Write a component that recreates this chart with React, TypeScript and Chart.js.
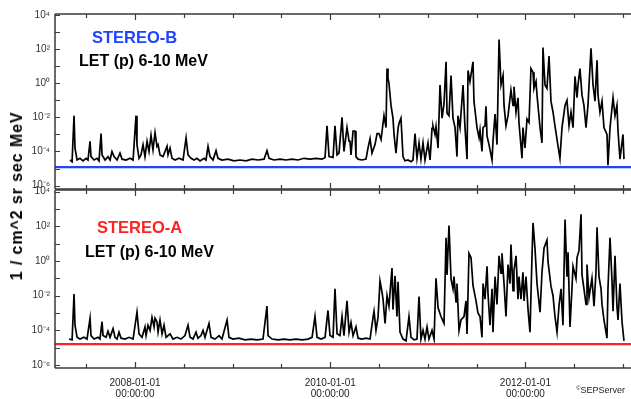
import React, { useEffect, useRef } from 'react';
import { Chart, registerables } from 'chart.js';

Chart.register(...registerables);

// ---------- data (time in decimal years, flux as log10 of 1/(cm^2 sr sec MeV)) ----------
const stereoBTimes = [
  2007.334, 2007.355, 2007.375, 2007.385, 2007.406, 2007.436, 2007.467, 2007.498, 2007.518, 2007.539,
  2007.549, 2007.580, 2007.611, 2007.631, 2007.652, 2007.662, 2007.693, 2007.723, 2007.744, 2007.764,
  2007.785, 2007.816, 2007.846, 2007.867, 2007.908, 2007.949, 2007.980, 2008.010, 2008.020, 2008.041,
  2008.061, 2008.082, 2008.102, 2008.123, 2008.143, 2008.164, 2008.184, 2008.205, 2008.225, 2008.236,
  2008.256, 2008.287, 2008.328, 2008.338, 2008.359, 2008.379, 2008.410, 2008.451, 2008.492, 2008.523,
  2008.543, 2008.574, 2008.605, 2008.635, 2008.666, 2008.707, 2008.727, 2008.748, 2008.768, 2008.799,
  2008.830, 2008.850, 2008.891, 2008.953, 2009.014, 2009.076, 2009.137, 2009.199, 2009.260, 2009.322,
  2009.352, 2009.373, 2009.424, 2009.486, 2009.547, 2009.609, 2009.670, 2009.732, 2009.793, 2009.855,
  2009.916, 2009.947, 2009.967, 2009.988, 2010.029, 2010.049, 2010.070, 2010.090, 2010.121, 2010.141,
  2010.172, 2010.193, 2010.203, 2010.213, 2010.234, 2010.254, 2010.264, 2010.285, 2010.326, 2010.367,
  2010.387, 2010.408, 2010.428, 2010.459, 2010.480, 2010.500, 2010.521, 2010.551, 2010.572, 2010.582,
  2010.592, 2010.602, 2010.623, 2010.643, 2010.654, 2010.674, 2010.695, 2010.705, 2010.725, 2010.746,
  2010.766, 2010.797, 2010.828, 2010.848, 2010.869, 2010.889, 2010.910, 2010.930, 2010.951, 2010.971,
  2011.002, 2011.023, 2011.043, 2011.053, 2011.074, 2011.084, 2011.105, 2011.125, 2011.146, 2011.166,
  2011.187, 2011.197, 2011.217, 2011.238, 2011.258, 2011.279, 2011.299, 2011.309, 2011.330, 2011.361,
  2011.381, 2011.402, 2011.412, 2011.432, 2011.463, 2011.473, 2011.504, 2011.525, 2011.535, 2011.555,
  2011.566, 2011.586, 2011.596, 2011.607, 2011.627, 2011.658, 2011.668, 2011.689, 2011.709, 2011.730,
  2011.750, 2011.771, 2011.781, 2011.801, 2011.822, 2011.852, 2011.873, 2011.883, 2011.904, 2011.924,
  2011.934, 2011.965, 2011.975, 2011.996, 2012.016, 2012.037, 2012.057, 2012.078, 2012.088, 2012.109,
  2012.119, 2012.150, 2012.170, 2012.180, 2012.201, 2012.221, 2012.242, 2012.262, 2012.283, 2012.303,
  2012.324, 2012.354, 2012.375, 2012.406, 2012.426, 2012.447, 2012.467, 2012.488, 2012.508, 2012.529,
  2012.539, 2012.559, 2012.580, 2012.600, 2012.621, 2012.641, 2012.672, 2012.693, 2012.713, 2012.734,
  2012.744, 2012.764, 2012.785, 2012.805, 2012.836, 2012.846, 2012.867, 2012.898, 2012.918, 2012.938,
  2012.949, 2012.969, 2013.000, 2013.010,
];
const stereoBLogFlux = [
  -4.5, -4.6, -1.9, -3.8, -4.5, -4.4, -4.55, -4.4, -4.5, -3.4,
  -4.3, -4.5, -4.4, -4.55, -2.95, -4.2, -4.5, -4.3, -4.5, -4.0,
  -4.3, -4.5, -4.1, -4.45, -4.5, -4.4, -4.5, -1.9, -3.6, -4.4,
  -4.2, -3.6, -4.3, -3.4, -4.0, -3.05, -3.9, -2.9, -3.7, -3.6,
  -4.2, -4.3, -3.7, -4.2, -3.8, -4.4, -4.5, -4.4, -4.5, -3.2,
  -4.2, -4.4, -4.5, -4.4, -4.55, -4.4, -4.5, -3.7, -4.3, -4.5,
  -3.95, -4.4, -4.5, -4.45, -4.55, -4.5, -4.55, -4.45, -4.5, -4.45,
  -3.95, -4.4, -4.5, -4.45, -4.5, -4.45, -4.5, -4.4, -4.45, -4.4,
  -4.45, -4.35, -2.5, -4.3, -4.35, -2.5, -4.2, -4.1, -2.0, -4.0,
  -2.6, -3.4, -3.4, -4.2, -2.8, -2.8, -4.3, -4.45, -4.5, -4.45,
  -3.8, -3.25, -4.1, -3.6, -2.95, -2.95, -3.3, -1.9, -2.6, 0.86,
  0.3, 0.0, -1.3, -2.05, -3.0, -4.1, -2.65, -2.35, -2.05, -4.3,
  -4.55, -4.5, -4.6, -4.5, -2.95, -4.4, -3.5, -4.45, -3.5, -4.5,
  -3.5, -4.5, -2.65, -2.5, -3.0, -2.55, -3.8, -0.1, -2.05, -1.2,
  1.26, -1.75, -1.9, 0.45, -2.05, -2.6, -4.3, -1.9, -2.6, -0.1,
  -2.6, -4.45, 0.75, 0.1, 1.26, -1.05, -2.6, -3.2, -2.75, -4.0,
  -2.6, -2.5, -1.35, -3.1, -3.6, -4.5, -3.4, -1.8, -3.6, 2.57,
  -0.1, 0.45, -1.3, -2.5, -1.9, -0.4, -1.3, -0.2, -1.7, -0.85,
  -2.3, -4.4, -2.6, -3.8, -2.1, -2.3, 0.86, 0.65, -0.3, 0.1,
  -0.7, -2.6, -3.5, 2.1, -0.1, -0.3, 1.6, -1.05, -1.7, -2.5,
  -3.3, -4.4, -2.6, -1.3, -1.0, -2.5, -1.7, -2.6, 0.4, -0.85,
  -0.1, 0.86, -0.7, -1.3, -2.6, -1.3, 2.05, -0.1, -1.05, 1.35,
  -0.7, -1.7, -1.05, -2.6, -3.0, -4.8, -2.6, -0.85, -1.9, -1.3,
  -2.8, -4.45, -3.0, -4.45,
];

const stereoATimes = [
  2007.324, 2007.355, 2007.375, 2007.385, 2007.406, 2007.436, 2007.477, 2007.508, 2007.539, 2007.549,
  2007.580, 2007.621, 2007.641, 2007.662, 2007.672, 2007.703, 2007.723, 2007.744, 2007.775, 2007.795,
  2007.816, 2007.836, 2007.857, 2007.898, 2007.939, 2007.980, 2008.020, 2008.041, 2008.072, 2008.102,
  2008.113, 2008.133, 2008.154, 2008.174, 2008.195, 2008.205, 2008.225, 2008.236, 2008.256, 2008.277,
  2008.297, 2008.318, 2008.359, 2008.389, 2008.430, 2008.471, 2008.512, 2008.543, 2008.564, 2008.594,
  2008.625, 2008.645, 2008.676, 2008.697, 2008.717, 2008.758, 2008.779, 2008.820, 2008.861, 2008.891,
  2008.943, 2008.963, 2009.004, 2009.066, 2009.127, 2009.189, 2009.250, 2009.311, 2009.352, 2009.363,
  2009.404, 2009.465, 2009.527, 2009.588, 2009.650, 2009.711, 2009.773, 2009.814, 2009.844, 2009.865,
  2009.906, 2009.947, 2009.977, 2009.998, 2010.029, 2010.049, 2010.070, 2010.100, 2010.121, 2010.141,
  2010.172, 2010.193, 2010.213, 2010.234, 2010.264, 2010.285, 2010.326, 2010.367, 2010.408, 2010.439,
  2010.449, 2010.469, 2010.490, 2010.510, 2010.531, 2010.541, 2010.562, 2010.582, 2010.602, 2010.633,
  2010.643, 2010.664, 2010.684, 2010.695, 2010.715, 2010.746, 2010.777, 2010.807, 2010.828, 2010.859,
  2010.889, 2010.910, 2010.930, 2010.951, 2010.971, 2010.992, 2011.012, 2011.043, 2011.064, 2011.084,
  2011.105, 2011.135, 2011.166, 2011.187, 2011.197, 2011.217, 2011.238, 2011.258, 2011.268, 2011.289,
  2011.299, 2011.320, 2011.340, 2011.371, 2011.391, 2011.402, 2011.422, 2011.443, 2011.463, 2011.494,
  2011.514, 2011.535, 2011.555, 2011.566, 2011.586, 2011.607, 2011.617, 2011.637, 2011.658, 2011.668,
  2011.689, 2011.709, 2011.730, 2011.750, 2011.760, 2011.781, 2011.801, 2011.822, 2011.842, 2011.852,
  2011.873, 2011.883, 2011.904, 2011.924, 2011.934, 2011.955, 2011.975, 2011.986, 2012.006, 2012.027,
  2012.047, 2012.068, 2012.078, 2012.098, 2012.119, 2012.150, 2012.170, 2012.191, 2012.221, 2012.232,
  2012.262, 2012.283, 2012.303, 2012.324, 2012.344, 2012.365, 2012.385, 2012.406, 2012.426, 2012.437,
  2012.457, 2012.477, 2012.488, 2012.518, 2012.529, 2012.549, 2012.570, 2012.580, 2012.600, 2012.621,
  2012.631, 2012.652, 2012.682, 2012.703, 2012.723, 2012.734, 2012.754, 2012.775, 2012.785, 2012.805,
  2012.836, 2012.846, 2012.867, 2012.887, 2012.898, 2012.918, 2012.938, 2012.949, 2012.969, 2012.990,
  2013.010,
];
const stereoALogFlux = [
  -4.5, -4.55, -1.9, -3.7, -4.4, -4.5, -4.4, -4.5, -3.3, -4.3,
  -4.5, -4.4, -4.5, -3.5, -4.3, -4.4, -4.05, -4.4, -3.9, -4.4,
  -4.5, -4.1, -4.45, -4.5, -4.4, -4.5, -2.95, -4.2, -4.4, -3.8,
  -4.3, -3.7, -4.0, -3.25, -3.8, -3.3, -3.5, -4.1, -3.4, -4.2,
  -3.7, -4.4, -4.2, -4.5, -4.4, -4.5, -4.3, -3.7, -4.4, -4.5,
  -4.1, -4.45, -4.3, -4.0, -4.4, -3.6, -4.4, -4.5, -4.3, -4.5,
  -3.4, -4.4, -4.5, -4.45, -4.55, -4.5, -4.55, -4.5, -2.6, -4.3,
  -4.5, -4.55, -4.5, -4.55, -4.5, -4.55, -4.5, -4.4, -3.2, -4.4,
  -4.5, -4.4, -2.85, -4.3, -4.4, -1.6, -4.2, -4.3, -3.2, -4.3,
  -2.3, -4.1, -3.55, -4.3, -3.8, -4.45, -4.5, -4.45, -4.5, -3.25,
  -2.9, -4.0, -3.25, -1.15, -1.8, -2.2, -3.6, -2.0, -2.6, -0.4,
  -2.8, -0.85, -3.2, -1.2, -4.1, -4.5, -4.6, -3.2, -4.4, -4.55,
  -4.5, -2.05, -4.5, -4.0, -4.5, -3.8, -4.5, -4.0, -4.5, -1.0,
  -2.7, -3.2, -3.6, 1.35, -0.8, 2.05, -1.05, -1.6, -0.9, -2.35,
  -1.3, -4.0, -3.4, -3.2, -2.3, -4.2, 0.45, 0.2, -1.4, -2.3,
  -3.0, -3.2, -4.4, -1.3, -2.2, -0.3, -1.9, -3.7, -1.6, -4.1,
  -0.9, -2.5, 0.3, -0.7, 0.45, -1.3, -3.2, -0.2, -1.3, 0.95,
  -1.7, -0.55, 0.3, -2.2, -0.9, -2.2, -0.65, -2.3, -0.9, -2.8,
  -4.1, 0.35, 2.2, 0.75, -1.3, -2.95, -0.65, 0.75, 1.2, -0.05,
  -1.45, -2.0, -3.2, -4.1, -2.6, -1.6, -3.7, 2.4, -0.9, 0.5,
  -3.8, -1.6, -0.3, -1.0, 0.2, 0.6, 2.7, -0.8, -1.6, -2.5,
  -0.2, -2.1, -1.0, -2.6, -0.65, 1.95, -0.9, -1.6, -2.5, -3.4,
  -4.45, -1.6, 1.35, -1.1, -2.9, 0.3, -2.6, -3.4, -1.3, -3.5,
  -4.6,
];

// background levels (horizontal reference lines)
const stereoBBackground = 1.2e-5;
const stereoABackground = 1.6e-5;

// axes
const timeRange = [2007.18, 2013.082];
const xTickValues = [2007.5, 2008, 2008.5, 2009, 2009.5, 2010, 2010.5, 2011, 2011.5, 2012, 2012.5, 2013];
const xTickLabels: Record<string, string[]> = {
  '2008': ['2008-01-01', '00:00:00'],
  '2010': ['2010-01-01', '00:00:00'],
  '2012': ['2012-01-01', '00:00:00'],
};
const yDecades = [-6, -5, -4, -3, -2, -1, 0, 1, 2, 3, 4];
const yTickLabels: Record<string, string> = {
  '-6': '10⁻⁶', '-4': '10⁻⁴', '-2': '10⁻²', '0': '10⁰', '2': '10²', '4': '10⁴',
};
const topRangeExp = [-6.2, 4.06];
const bottomRangeExp = [-6.17, 4.1];

const FONT = '"Liberation Sans", Arial, Helvetica, sans-serif';
const BLUE = '#1f44ff';
const RED = '#ff2222';

type Txt = { text: string; x: number; y: number; color: string; size: number };

const framePlugin = {
  id: 'idlFrame',
  afterDatasetsDraw(chart: any, _args: any, opts: any) {
    const { ctx, chartArea: a } = chart;
    const xs = chart.scales.x;
    const ys = chart.scales.y;
    ctx.save();
    ctx.strokeStyle = '#3a3a3a';
    ctx.lineWidth = 1.5;
    ctx.beginPath();
    ctx.moveTo(a.left, a.top);
    ctx.lineTo(a.right + 2, a.top);
    ctx.moveTo(a.left, a.bottom);
    ctx.lineTo(a.right + 2, a.bottom);
    ctx.moveTo(a.left, a.top);
    ctx.lineTo(a.left, a.bottom);
    ctx.stroke();
    ctx.lineWidth = 1.2;
    ctx.beginPath();
    for (const e of yDecades) {
      const py = Math.round(ys.getPixelForValue(Math.pow(10, e))) + 0.5;
      ctx.moveTo(a.left, py);
      ctx.lineTo(a.left + 5, py);
    }
    for (const t of xTickValues) {
      const px = Math.round(xs.getPixelForValue(t)) + 0.5;
      const len = xTickLabels[String(t)] ? 6 : 4;
      ctx.moveTo(px, a.top);
      ctx.lineTo(px, a.top + len);
      ctx.moveTo(px, a.bottom);
      ctx.lineTo(px, a.bottom - len);
    }
    ctx.stroke();
    const texts: Txt[] = (opts && opts.texts) || [];
    for (const t of texts) {
      ctx.font = `bold ${t.size}px ${FONT}`;
      ctx.fillStyle = t.color;
      ctx.textAlign = 'left';
      ctx.textBaseline = 'alphabetic';
      ctx.fillText(t.text, t.x, t.y);
    }
    ctx.restore();
  },
};

function makeChart(
  canvas: HTMLCanvasElement,
  times: number[],
  logs: number[],
  background: number,
  bgColor: string,
  rangeExp: number[],
  padTop: number,
  padBottom: number,
  showX: boolean,
  texts: Txt[],
) {
  const series = times.map((t, i) => ({ x: t, y: Math.pow(10, logs[i]) }));
  const bg = [
    { x: timeRange[0], y: background },
    { x: timeRange[1], y: background },
  ];
  return new Chart(canvas, {
    type: 'line',
    data: {
      datasets: [
        { data: bg, borderColor: bgColor, borderWidth: 2.2, pointRadius: 0, fill: false },
        { data: series, borderColor: '#000', borderWidth: 1.7, pointRadius: 0, fill: false, tension: 0 },
      ],
    },
    options: {
      animation: false,
      responsive: false,
      maintainAspectRatio: false,
      events: [],
      layout: { padding: { top: padTop, bottom: padBottom, left: 0, right: 0 } },
      plugins: {
        legend: { display: false },
        tooltip: { enabled: false },
        idlFrame: { texts },
      } as any,
      scales: {
        x: {
          type: 'linear',
          min: timeRange[0],
          max: timeRange[1],
          display: showX,
          grid: { display: false, drawTicks: false },
          border: { display: false },
          afterBuildTicks: (s: any) => {
            s.ticks = xTickValues.map((v) => ({ value: v }));
          },
          afterFit: (s: any) => {
            s.height = showX ? 31 : 0;
            s.paddingLeft = 0;
            s.paddingRight = 0;
          },
          ticks: {
            autoSkip: false,
            maxRotation: 0,
            minRotation: 0,
            padding: 9,
            color: '#222',
            font: { family: FONT, size: 10, lineHeight: 1.15 },
            callback: (v: any) => xTickLabels[String(v)] || '',
          },
        },
        y: {
          type: 'logarithmic',
          min: Math.pow(10, rangeExp[0]),
          max: Math.pow(10, rangeExp[1]),
          grid: { display: false, drawTicks: false },
          border: { display: false },
          afterBuildTicks: (s: any) => {
            s.ticks = yDecades.map((e) => ({ value: Math.pow(10, e) }));
          },
          afterFit: (s: any) => {
            s.width = 55;
            s.paddingTop = 0;
            s.paddingBottom = 0;
          },
          ticks: {
            autoSkip: false,
            padding: 5,
            color: '#333',
            font: { family: FONT, size: 10 },
            callback: (v: any) => yTickLabels[String(Math.round(Math.log10(Number(v))))] || '',
          },
        },
      },
    },
    plugins: [framePlugin],
  } as any);
}

export default function App() {
  const topRef = useRef<HTMLCanvasElement>(null);
  const botRef = useRef<HTMLCanvasElement>(null);

  useEffect(() => {
    const c1 = makeChart(
      topRef.current!, stereoBTimes, stereoBLogFlux, stereoBBackground, BLUE, topRangeExp, 14, 11, false,
      [
        { text: 'STEREO-B', x: 92, y: 43, color: BLUE, size: 16.5 },
        { text: 'LET (p) 6-10 MeV', x: 79, y: 66, color: '#000', size: 16 },
      ],
    );
    const c2 = makeChart(
      botRef.current!, stereoATimes, stereoALogFlux, stereoABackground, RED, bottomRangeExp, 12, 0, true,
      [
        { text: 'STEREO-A', x: 97, y: 55, color: RED, size: 16.5 },
        { text: 'LET (p) 6-10 MeV', x: 85, y: 79, color: '#000', size: 16 },
      ],
    );
    return () => {
      c1.destroy();
      c2.destroy();
    };
  }, []);

  return (
    <div style={{ position: 'absolute', left: 0, top: 0, width: 631, height: 399, background: '#fff', overflow: 'hidden' }}>
      <canvas ref={topRef} width={631} height={200} style={{ position: 'absolute', left: 0, top: 0, width: 631, height: 200 }} />
      <canvas ref={botRef} width={631} height={221} style={{ position: 'absolute', left: 0, top: 178, width: 631, height: 221 }} />
      <div
        style={{
          position: 'absolute', left: 17, top: 196, transform: 'translate(-50%, -50%) rotate(-90deg)',
          whiteSpace: 'nowrap', font: `bold 16px ${FONT}`, letterSpacing: '0.9px', color: '#000',
        }}
      >
        1 / cm^2 sr sec MeV
      </div>
      <div style={{ position: 'absolute', left: 576, top: 385, whiteSpace: 'nowrap', font: `9px ${FONT}`, color: '#222' }}>
        <span style={{ fontSize: 6, verticalAlign: 'top' }}>©</span>SEPServer
      </div>
    </div>
  );
}
